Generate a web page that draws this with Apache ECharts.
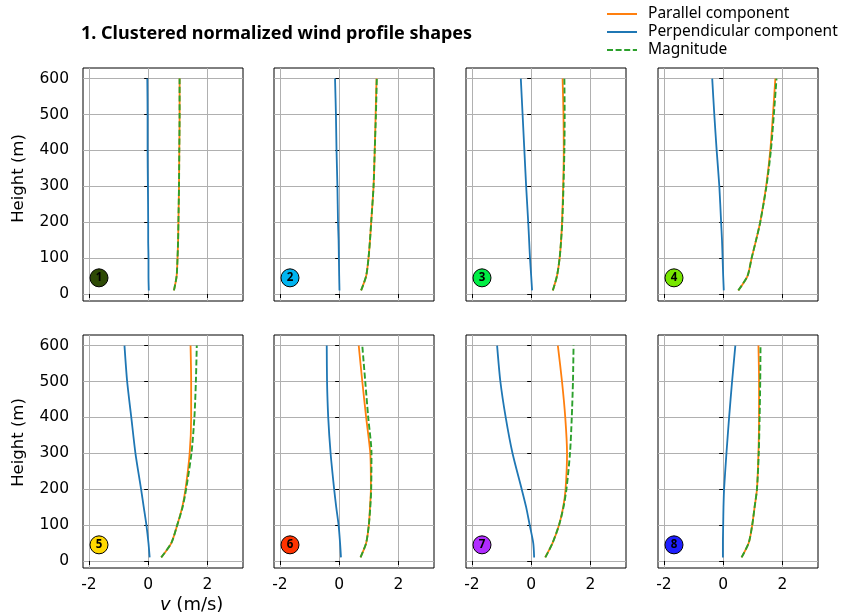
<!DOCTYPE html>
<html>
<head>
<meta charset="utf-8">
<script src="https://cdn.jsdelivr.net/npm/echarts@6/dist/echarts.min.js"></script>
<style>
  html, body { margin: 0; padding: 0; background: #fff; }
  #chart { width: 841px; height: 616px; }
</style>
</head>
<body>
<div id="chart"></div>
<script>
// heights (m) of the profile points
var heights = [10, 50, 100, 150, 200, 300, 400, 500, 600];

// normalized wind, one row per cluster
var parallel = [
  [0.87, 0.96, 0.99, 1.01, 1.02, 1.04, 1.05, 1.06, 1.06],
  [0.74, 0.91, 0.99, 1.04, 1.08, 1.16, 1.20, 1.23, 1.26],
  [0.73, 0.87, 0.96, 1.01, 1.04, 1.08, 1.10, 1.09, 1.06],
  [0.51, 0.82, 0.96, 1.11, 1.25, 1.45, 1.59, 1.68, 1.76],
  [0.44, 0.78, 0.98, 1.15, 1.26, 1.40, 1.45, 1.45, 1.43],
  [0.72, 0.91, 1.00, 1.04, 1.07, 1.05, 0.91, 0.78, 0.66],
  [0.47, 0.72, 0.94, 1.08, 1.16, 1.21, 1.15, 1.04, 0.90],
  [0.62, 0.86, 0.98, 1.06, 1.14, 1.19, 1.21, 1.21, 1.19]
];
var perpendicular = [
  [0.02, 0.01, 0.01, 0.00, 0.00, -0.01, -0.02, -0.02, -0.03],
  [0.01, 0.00, -0.01, -0.02, -0.04, -0.06, -0.09, -0.11, -0.14],
  [0.03, 0.00, -0.04, -0.07, -0.10, -0.17, -0.23, -0.29, -0.35],
  [0.02, 0.00, -0.02, -0.04, -0.07, -0.13, -0.22, -0.30, -0.37],
  [0.05, 0.01, -0.06, -0.15, -0.24, -0.43, -0.57, -0.71, -0.80],
  [0.06, 0.03, -0.02, -0.10, -0.17, -0.29, -0.37, -0.41, -0.42],
  [0.10, 0.07, -0.05, -0.17, -0.32, -0.63, -0.86, -1.04, -1.15],
  [-0.01, -0.01, 0.00, 0.01, 0.03, 0.11, 0.20, 0.30, 0.41]
];
var magnitude = [
  [0.87, 0.96, 0.99, 1.01, 1.02, 1.04, 1.05, 1.06, 1.06],
  [0.74, 0.91, 0.99, 1.04, 1.08, 1.16, 1.20, 1.24, 1.27],
  [0.73, 0.87, 0.96, 1.01, 1.05, 1.09, 1.12, 1.13, 1.12],
  [0.51, 0.82, 0.96, 1.11, 1.25, 1.46, 1.61, 1.71, 1.80],
  [0.44, 0.78, 0.98, 1.16, 1.28, 1.46, 1.56, 1.61, 1.64],
  [0.72, 0.91, 1.00, 1.05, 1.08, 1.09, 0.98, 0.88, 0.78],
  [0.48, 0.72, 0.94, 1.09, 1.19, 1.31, 1.37, 1.41, 1.43],
  [0.62, 0.86, 0.98, 1.06, 1.14, 1.20, 1.23, 1.25, 1.26]
];

var clusterLabels = ['1', '2', '3', '4', '5', '6', '7', '8'];
var clusterColors = ['#2e4a05', '#00b4f0', '#00ee44', '#77e600', '#ffd800', '#ff3300', '#b02cff', '#1f1fff'];
var badgePos = [-1.66, 45];

var xTicks = [-2, 0, 2];
var yTicks = [0, 100, 200, 300, 400, 500, 600];

var names = ['Parallel component', 'Perpendicular component', 'Magnitude'];
var tickFont = 'DejaVu Sans';
var textFont = 'Noto Sans';

var lefts = [83, 274, 466, 658];
var tops = [68, 335];

var chart = echarts.init(document.getElementById('chart'), null, {renderer: 'canvas'});

var grids = [], xAxes = [], yAxes = [], series = [];

function pairs(xs) {
  return xs.map(function (v, i) { return [v, heights[i]]; });
}

for (var k = 0; k < 8; k++) {
  var row = Math.floor(k / 4), col = k % 4;
  grids.push({
    left: lefts[col], top: tops[row], width: 160, height: 233,
    show: true, borderColor: '#000', borderWidth: 1, containLabel: false
  });
  xAxes.push({
    gridIndex: k, type: 'value', min: -2.2, max: 3.2,
    axisLine: {show: false},
    axisTick: {show: true, length: 4, customValues: xTicks, lineStyle: {color: '#000', width: 1}},
    axisLabel: {show: row === 1, customValues: xTicks, margin: 9, color: '#000',
      fontFamily: tickFont, fontSize: 15.5,
      formatter: function (v) { return String(v); }},
    splitLine: {show: true, lineStyle: {color: '#b0b0b0', width: 1}}
  });
  yAxes.push({
    gridIndex: k, type: 'value', min: -19.5, max: 629.5,
    axisLine: {show: false},
    axisTick: {show: true, length: 4, customValues: yTicks, lineStyle: {color: '#000', width: 1}},
    axisLabel: {show: col === 0, customValues: yTicks, margin: 14, color: '#000',
      fontFamily: tickFont, fontSize: 15.5},
    splitLine: {show: true, lineStyle: {color: '#b0b0b0', width: 1}}
  });

  series.push({
    name: names[1], type: 'line', xAxisIndex: k, yAxisIndex: k,
    data: pairs(perpendicular[k]), showSymbol: false, symbol: 'none',
    smooth: 0.25,
    lineStyle: {color: '#1f77b4', width: 1.8}, itemStyle: {color: '#1f77b4'}, z: 3
  });
  series.push({
    name: names[0], type: 'line', xAxisIndex: k, yAxisIndex: k,
    data: pairs(parallel[k]), showSymbol: false, symbol: 'none',
    smooth: 0.25,
    lineStyle: {color: '#ff7f0e', width: 1.8}, itemStyle: {color: '#ff7f0e'}, z: 3
  });
  series.push({
    name: names[2], type: 'line', xAxisIndex: k, yAxisIndex: k,
    data: pairs(magnitude[k]), showSymbol: false, symbol: 'none',
    smooth: 0.25,
    lineStyle: {color: '#2ca02c', width: 1.9, type: [6, 2.6]}, itemStyle: {color: '#2ca02c'}, z: 4
  });
  series.push({
    type: 'scatter', xAxisIndex: k, yAxisIndex: k,
    data: [badgePos], symbolSize: 18, z: 5,
    itemStyle: {color: clusterColors[k], borderColor: '#000', borderWidth: 1, opacity: 1},
    label: {show: true, position: 'inside', formatter: clusterLabels[k],
      color: '#000', fontWeight: 'bold', fontSize: 11.5, fontFamily: textFont}
  });
}

var option = {
  animation: false,
  backgroundColor: '#fff',
  title: {
    text: '1. Clustered normalized wind profile shapes',
    left: 76, top: 20,
    textStyle: {fontFamily: textFont, fontWeight: 'bold', fontSize: 18, color: '#000'}
  },
  legend: {
    data: names, orient: 'vertical', left: 601, top: 0,
    itemWidth: 30, itemHeight: 14, itemGap: 0,
    itemStyle: {opacity: 0},
    textStyle: {fontFamily: textFont, fontSize: 15.5, lineHeight: 18, color: '#000', padding: [0, 0, 0, 6]}
  },
  grid: grids,
  xAxis: xAxes,
  yAxis: yAxes,
  series: series,
  graphic: [{
    type: 'text', x: 160, y: 605,
    style: {
      text: '{i|v} (m/s)', verticalAlign: 'middle',
      fontFamily: tickFont, fontSize: 18, fill: '#000',
      rich: {i: {fontStyle: 'italic', fontFamily: tickFont, fontSize: 18}}
    }
  }, {
    type: 'text', x: 18.5, y: 178.5, rotation: Math.PI / 2,
    style: {text: 'Height (m)', align: 'center', verticalAlign: 'middle',
      fontFamily: tickFont, fontSize: 16.5, fill: '#000'}
  }, {
    type: 'text', x: 18.5, y: 442.5, rotation: Math.PI / 2,
    style: {text: 'Height (m)', align: 'center', verticalAlign: 'middle',
      fontFamily: tickFont, fontSize: 16.5, fill: '#000'}
  }]
};
chart.setOption(option);
</script>
</body>
</html>
